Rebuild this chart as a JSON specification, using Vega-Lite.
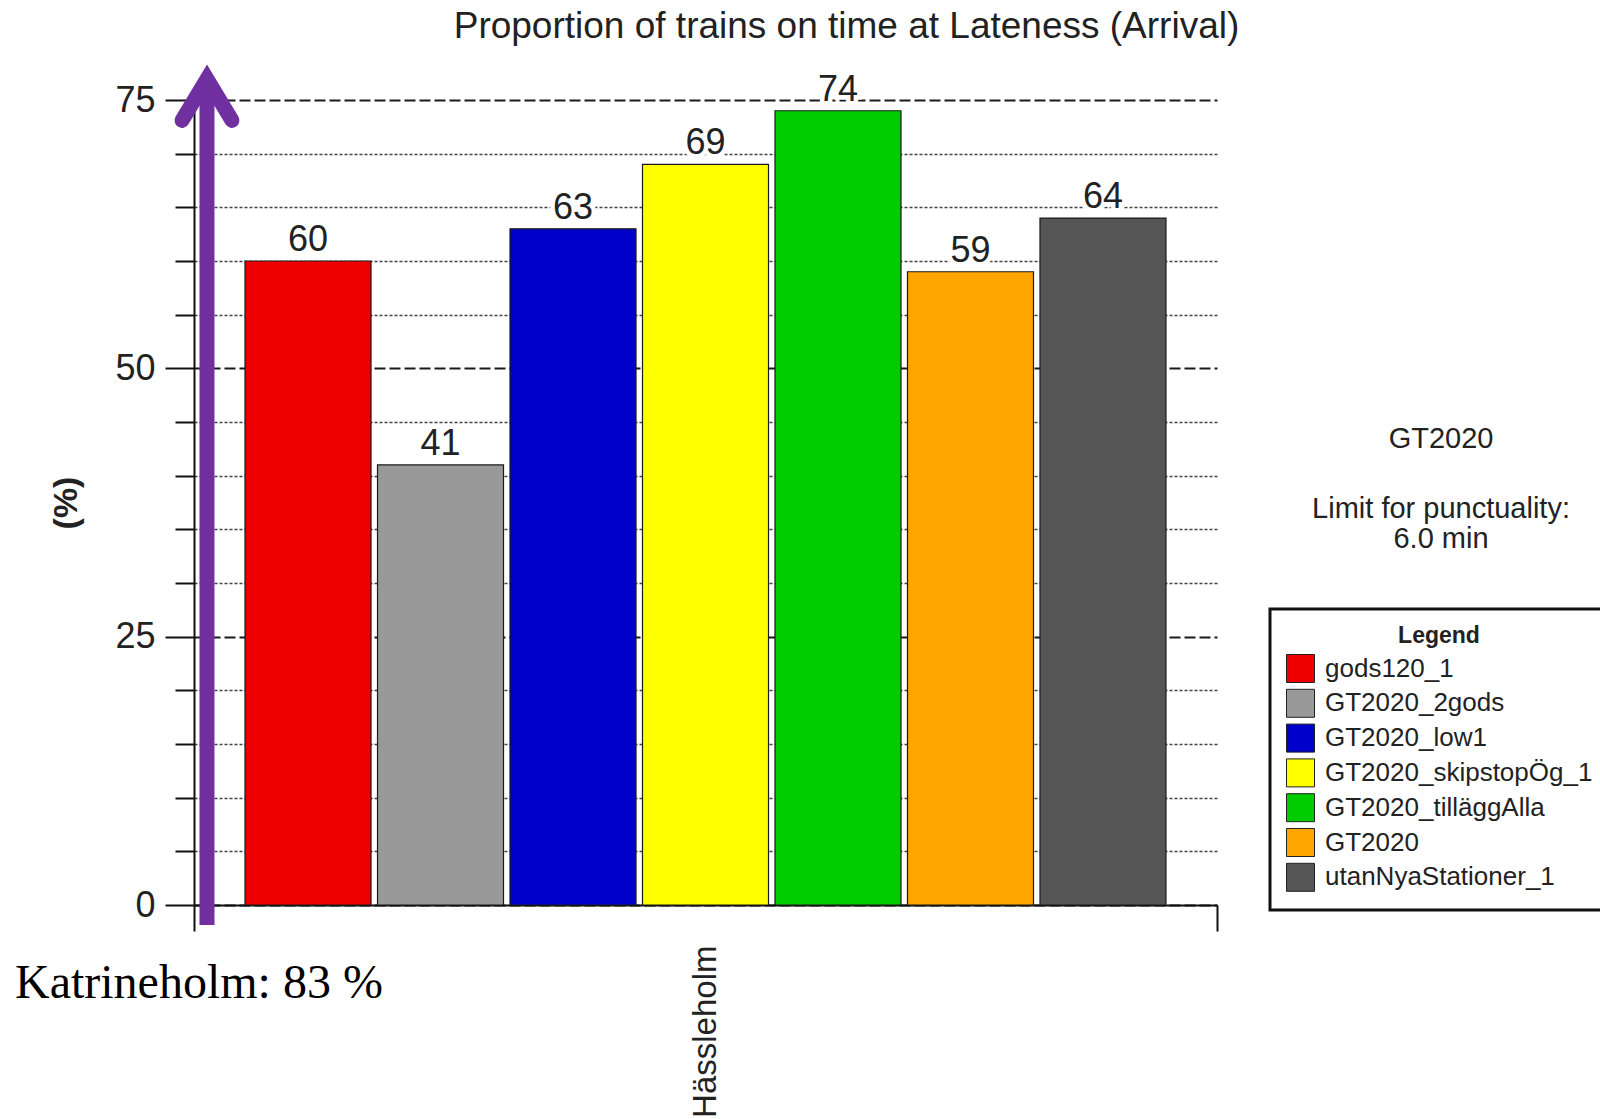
{
  "$schema": "https://vega.github.io/schema/vega-lite/v6.json",
  "width": 1023,
  "height": 805,
  "autosize": "none",
  "padding": {"left": 194, "top": 100, "right": 383, "bottom": 214},
  "background": "white",
  "title": {
    "text": "Proportion of trains on time at Lateness (Arrival)",
    "fontSize": 37,
    "fontWeight": "normal",
    "color": "#222222",
    "anchor": "middle",
    "dx": 141,
    "offset": 3
  },
  "datasets": {
    "bars": [
      {"station": "Hässleholm", "scenario": "gods120_1", "value": 60},
      {"station": "Hässleholm", "scenario": "GT2020_2gods", "value": 41},
      {"station": "Hässleholm", "scenario": "GT2020_low1", "value": 63},
      {"station": "Hässleholm", "scenario": "GT2020_skipstopÖg_1", "value": 69},
      {"station": "Hässleholm", "scenario": "GT2020_tilläggAlla", "value": 74},
      {"station": "Hässleholm", "scenario": "GT2020", "value": 59},
      {"station": "Hässleholm", "scenario": "utanNyaStationer_1", "value": 64}
    ],
    "shaft": [{"px": 0.0127, "y": -1.87, "y2": 76.9}],
    "head": [
      {"px": -0.0117, "y": 73.1},
      {"px": 0.0127, "y": 76.96},
      {"px": 0.0371, "y": 73.1}
    ],
    "note": [{"px": -0.175, "y": -8.67, "text": "Katrineholm: 83 %"}],
    "side": [
      {"px": 1.219, "y": 42.58, "text": "GT2020"},
      {"px": 1.219, "y": 36.06, "text": "Limit for punctuality:"},
      {"px": 1.219, "y": 33.26, "text": "6.0 min"}
    ]
  },
  "layer": [
    {
      "data": {"name": "bars"},
      "encoding": {
        "x": {
          "field": "station",
          "type": "nominal",
          "scale": {"paddingInner": 0, "paddingOuter": 0},
          "axis": {
            "title": null,
            "labelAngle": 270,
            "labelFontSize": 33,
            "labelColor": "#222222",
            "labelPadding": 40,
            "ticks": false,
            "tickSize": 0,
            "domain": true,
            "domainColor": "#111111",
            "domainWidth": 2,
            "grid": false
          }
        },
        "xOffset": {
          "field": "scenario",
          "type": "nominal",
          "sort": null,
          "scale": {"paddingInner": 0.049, "paddingOuter": 0.385}
        },
        "y": {
          "field": "value",
          "type": "quantitative",
          "scale": {"domain": [0, 75], "nice": false},
          "axis": {
            "orient": "left",
            "values": [0, 25, 50, 75],
            "title": "(%)",
            "titleFontSize": 34,
            "titleFontWeight": "bold",
            "titleColor": "#222222",
            "titlePadding": 31,
            "labelOverlap": false,
            "labelFontSize": 36,
            "labelColor": "#222222",
            "labelPadding": 10,
            "tickSize": 29,
            "tickColor": "#111111",
            "tickWidth": 2,
            "domainColor": "#111111",
            "domainWidth": 2,
            "grid": true,
            "gridDash": [11, 4],
            "gridColor": "#1a1a1a",
            "gridWidth": 1.8
          }
        }
      },
      "layer": [
        {
          "mark": {"type": "bar", "stroke": "#1a1a1a", "strokeWidth": 1.2},
          "encoding": {
            "color": {
              "field": "scenario",
              "type": "nominal",
              "scale": {
                "domain": ["gods120_1", "GT2020_2gods", "GT2020_low1", "GT2020_skipstopÖg_1", "GT2020_tilläggAlla", "GT2020", "utanNyaStationer_1"],
                "range": ["#EE0000", "#999999", "#0000CC", "#FFFF00", "#00CC00", "#FFA500", "#555555"]
              },
              "legend": {
                "orient": "none",
                "legendX": 1076,
                "legendY": 509,
                "title": "Legend",
                "titleFontSize": 23,
                "titleFontWeight": "bold",
                "titleColor": "#222222",
                "titleAnchor": "middle",
                "titlePadding": 6,
                "strokeColor": "#111111",
                "fillColor": "white",
                "padding": 16,
                "symbolType": "square",
                "symbolSize": 784,
                "symbolStrokeColor": "#222222",
                "symbolStrokeWidth": 1,
                "symbolOpacity": 1,
                "labelFontSize": 26,
                "labelColor": "#222222",
                "labelOffset": 10,
                "rowPadding": 1.8,
                "labelLimit": 400
              }
            }
          }
        },
        {
          "mark": {"type": "text", "baseline": "alphabetic", "dy": -10, "fontSize": 36, "fill": "white", "stroke": "white", "strokeWidth": 9},
          "encoding": {"text": {"field": "value", "type": "quantitative"}}
        },
        {
          "mark": {"type": "text", "baseline": "alphabetic", "dy": -10, "fontSize": 36, "color": "#222222"},
          "encoding": {"text": {"field": "value", "type": "quantitative"}}
        }
      ]
    },
    {
      "layer": [
        {
          "data": {"name": "shaft"},
          "mark": {"type": "rule", "color": "#7030A0", "strokeWidth": 15, "strokeCap": "butt"},
          "encoding": {
            "x": {
              "field": "px",
              "type": "quantitative",
              "scale": {"domain": [0, 1], "nice": false, "zero": false},
              "axis": {
                "orient": "bottom",
                "values": [0, 1],
                "tickSize": 26,
                "tickWidth": 2,
                "tickColor": "#111111",
                "labels": false,
                "domain": false,
                "grid": false,
                "title": null
              }
            },
            "y": {
              "field": "y",
              "type": "quantitative",
              "scale": {"domain": [0, 75], "nice": false},
              "axis": {
                "orient": "left",
                "values": [5, 10, 15, 20, 30, 35, 40, 45, 55, 60, 65, 70],
                "title": null,
                "labels": false,
                "domain": false,
                "tickSize": 19,
                "tickWidth": 2,
                "tickColor": "#111111",
                "grid": true,
                "gridDash": [3, 2],
                "gridColor": "#444444",
                "gridWidth": 1.3
              }
            },
            "y2": {"field": "y2"}
          }
        },
        {
          "data": {"name": "head"},
          "mark": {"type": "line", "color": "#7030A0", "strokeWidth": 15, "strokeCap": "round", "strokeJoin": "miter"},
          "encoding": {
            "x": {"field": "px", "type": "quantitative", "scale": {"domain": [0, 1], "nice": false, "zero": false}},
            "y": {"field": "y", "type": "quantitative", "scale": {"domain": [0, 75], "nice": false}}
          }
        },
        {
          "data": {"name": "note"},
          "mark": {"type": "text", "align": "left", "baseline": "alphabetic", "font": "Liberation Serif", "fontSize": 48, "color": "#000000"},
          "encoding": {
            "x": {"field": "px", "type": "quantitative", "scale": {"domain": [0, 1], "nice": false, "zero": false}},
            "y": {"field": "y", "type": "quantitative", "scale": {"domain": [0, 75], "nice": false}},
            "text": {"field": "text", "type": "nominal"}
          }
        },
        {
          "data": {"name": "side"},
          "mark": {"type": "text", "align": "center", "baseline": "alphabetic", "fontSize": 29, "color": "#222222"},
          "encoding": {
            "x": {"field": "px", "type": "quantitative", "scale": {"domain": [0, 1], "nice": false, "zero": false}},
            "y": {"field": "y", "type": "quantitative", "scale": {"domain": [0, 75], "nice": false}},
            "text": {"field": "text", "type": "nominal"}
          }
        }
      ]
    }
  ],
  "resolve": {"scale": {"x": "independent", "y": "independent"}},
  "config": {
    "font": "Liberation Sans",
    "view": {"stroke": null},
    "legend": {"strokeWidth": 3}
  }
}
